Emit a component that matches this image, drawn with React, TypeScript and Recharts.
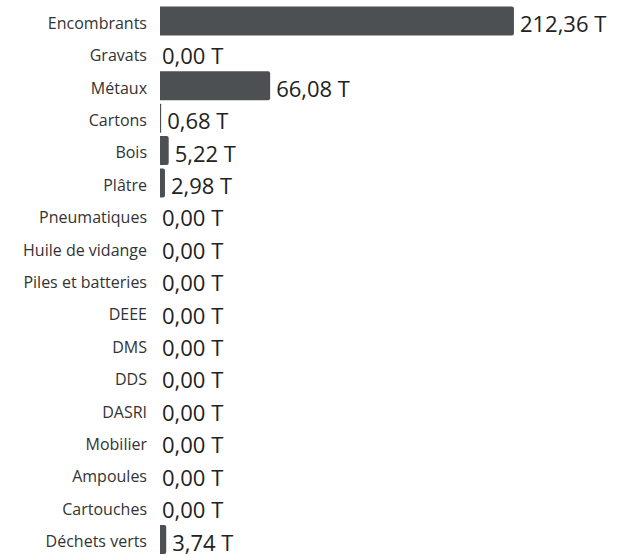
import React from 'react';
import { BarChart, Bar, XAxis, YAxis } from 'recharts';

const categories = [
  'Encombrants', 'Gravats', 'Métaux', 'Cartons', 'Bois', 'Plâtre', 'Pneumatiques',
  'Huile de vidange', 'Piles et batteries', 'DEEE', 'DMS', 'DDS', 'DASRI',
  'Mobilier', 'Ampoules', 'Cartouches', 'Déchets verts',
];
const tonnages = [212.36, 0, 66.08, 0.68, 5.22, 2.98, 0, 0, 0, 0, 0, 0, 0, 0, 0, 0, 3.74];
const unit = 'T';

const data = categories.map((name, i) => ({ name, value: tonnages[i] }));

const FONT = '"Open Sans", sans-serif';
const BAR_COLOR = '#4c5052';

const fmt = (v: number) => `${v.toFixed(2).replace('.', ',')} ${unit}`;

const CategoryTick = (props: any) => {
  const { x, y, payload } = props;
  return (
    <text x={x} y={y} dy={7.5} textAnchor="end" fontFamily={FONT} fontSize={16} fill="#333">
      {payload.value}
    </text>
  );
};

const BarWithLabel = (props: any) => {
  const { x, y, width, height, value } = props;
  const v = Array.isArray(value) ? Number(value[1]) : Number(value);
  const w = Math.max(0, Number(width) || 0);
  const bx = Number(x);
  const by = Number(y);
  const h = Number(height);
  const r = Math.min(2, w / 2);
  const off = v > 0 ? 6 : 2;
  const path = w > 0
    ? `M${bx},${by} L${bx + w - r},${by} Q${bx + w},${by} ${bx + w},${by + r} L${bx + w},${by + h - r} Q${bx + w},${by + h} ${bx + w - r},${by + h} L${bx},${by + h} Z`
    : '';
  return (
    <g>
      {w > 0 && <path d={path} fill={BAR_COLOR} />}
      <text x={bx + w + off} y={by + h / 2 + 11} textAnchor="start" fontFamily={FONT} fontSize={22} fill="#222">
        {fmt(v)}
      </text>
    </g>
  );
};

export default function App() {
  return (
    <div style={{ position: 'absolute', left: 0, top: 0, background: '#fff' }}>
      <BarChart width={630} height={556} data={data} layout="vertical"
        margin={{ top: 5, right: 0, bottom: 0, left: 0 }} barCategoryGap="4.5%">
        <XAxis type="number" hide domain={[0, 282]} />
        <YAxis type="category" dataKey="name" width={160} axisLine={false} tickLine={false}
          tickSize={0} tickMargin={13} tick={<CategoryTick />} interval={0} />
        <Bar dataKey="value" fill={BAR_COLOR} isAnimationActive={false} shape={<BarWithLabel />} minPointSize={0} />
      </BarChart>
    </div>
  );
}
